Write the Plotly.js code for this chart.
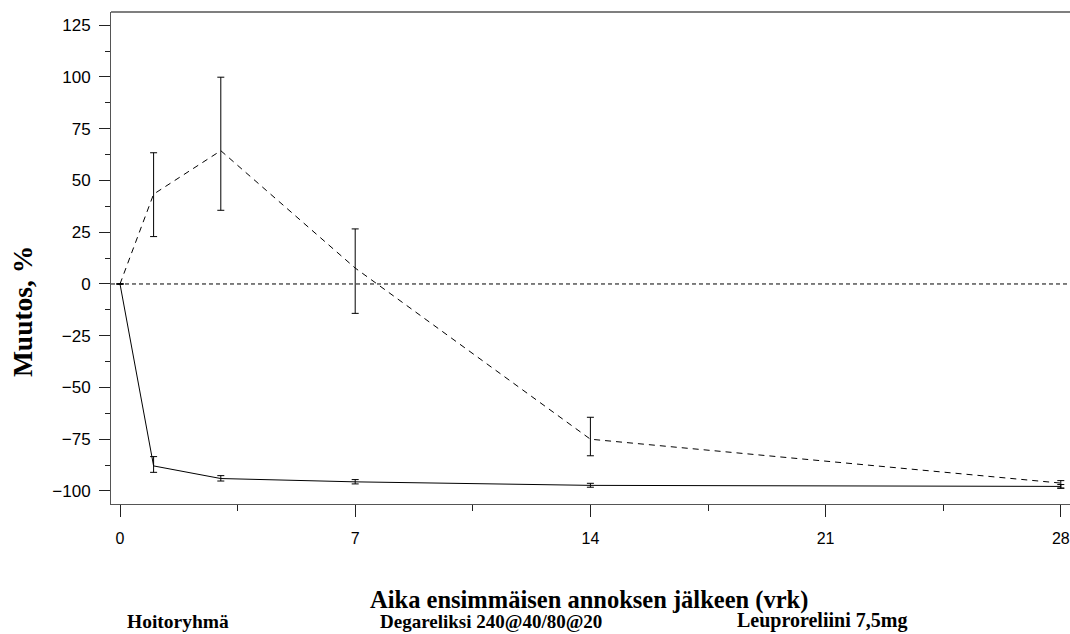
<!DOCTYPE html>
<html>
<head>
<meta charset="utf-8">
<script src="https://cdn.plot.ly/plotly-3.0.1.min.js"></script>
<style>html,body{margin:0;padding:0;background:#fff;}#chart{width:1070px;height:634px;}</style>
</head>
<body>
<div id="chart"></div>
<script>
// Data
const days = [0, 1, 3, 7, 14, 28];
const degarelix = [0, -87.9, -94.0, -95.6, -97.3, -97.8];
const degErrPlus = [0, 4.5, 1.4, 1.1, 1.0, 0.9];
const degErrMinus = [0, 3.1, 1.2, 1.0, 0.9, 0.9];
const leuprorelin = [0, 43.4, 64.4, 7.7, -75.0, -96.2];
const leuErrPlus = [0, 20.0, 35.5, 18.9, 10.6, 1.2];
const leuErrMinus = [0, 20.5, 28.8, 21.9, 8.0, 2.4];
const xTicks = [0, 7, 14, 21, 28];
const yTicks = [-100, -75, -50, -25, 0, 25, 50, 75, 100, 125];
const legendTitle = "Hoitoryhmä";
const seriesNames = ["Degareliksi 240@40/80@20", "Leuproreliini 7,5mg"];
const xTitle = "Aika ensimmäisen annoksen jälkeen (vrk)";
const yTitle = "Muutos, %";

const serif = "Liberation Serif, Times New Roman, serif";
const sans = "Liberation Sans, Arial, sans-serif";
const axisColor = "#555";
const fmt = v => (v < 0 ? "\u2212" + Math.abs(v) : String(v));

const traces = [
  {
    x: days, y: degarelix, name: seriesNames[0], type: "scatter", mode: "lines",
    line: {color: "#000", width: 1},
    error_y: {type: "data", symmetric: false, array: degErrPlus, arrayminus: degErrMinus,
              color: "#000", thickness: 1, width: 3.5},
    cliponaxis: false
  },
  {
    x: days, y: leuprorelin, name: seriesNames[1], type: "scatter", mode: "lines",
    line: {color: "#000", width: 1, dash: "6px,5px"},
    error_y: {type: "data", symmetric: false, array: leuErrPlus, arrayminus: leuErrMinus,
              color: "#000", thickness: 1, width: 3.5},
    cliponaxis: false
  }
];

const layout = {
  width: 1070, height: 634,
  margin: {l: 111, r: 0, t: 12, b: 130},
  paper_bgcolor: "#fff", plot_bgcolor: "#fff",
  showlegend: false,
  xaxis: {
    range: [-0.268, 28.274], tickmode: "array", tickvals: xTicks, ticktext: xTicks.map(fmt),
    showgrid: false, zeroline: false, showline: true, linecolor: axisColor, linewidth: 1,
    ticks: "outside", ticklen: 12, tickcolor: "#222", tickwidth: 1,
    ticklabelstandoff: 8,
    minor: {dtick: 3.5, tick0: 0, ticks: "outside", ticklen: 6, tickcolor: "#222", tickwidth: 1, showgrid: false},
    tickfont: {family: sans, size: 16, color: "#000"}
  },
  yaxis: {
    range: [-106.3, 131.4], tickmode: "array", tickvals: yTicks, ticktext: yTicks.map(fmt),
    showgrid: false, zeroline: false, showline: true, linecolor: axisColor, linewidth: 1,
    ticks: "outside", ticklen: 11, tickcolor: "#222", tickwidth: 1,
    ticklabelstandoff: 5,
    minor: {dtick: 12.5, tick0: 0, ticks: "outside", ticklen: 5, tickcolor: "#222", tickwidth: 1, showgrid: false},
    tickfont: {family: sans, size: 17, color: "#000"}
  },
  shapes: [
    {type: "line", xref: "paper", yref: "paper", x0: 0, x1: 1, y0: 1, y1: 1,
     line: {color: axisColor, width: 1.5}},
    {type: "line", xref: "paper", yref: "y", x0: 0, x1: 1, y0: 0, y1: 0,
     line: {color: "#000", width: 1, dash: "4px,3px"}}
  ],
  annotations: [
    {text: "<b>" + xTitle + "</b>", xref: "paper", yref: "paper", x: 0.4984, y: -0.1951,
     xanchor: "center", yanchor: "middle", showarrow: false,
     font: {family: serif, size: 24.5, color: "#000"}},
    {text: "<b>" + yTitle + "</b>", xref: "paper", yref: "paper", x: -0.0928, y: 0.39,
     xanchor: "center", yanchor: "middle", showarrow: false, textangle: -90,
     font: {family: serif, size: 27.5, color: "#000"}},
    {text: "<b>" + legendTitle + "</b>", xref: "paper", yref: "paper", x: 0.0146, y: -0.2642,
     xanchor: "left", yanchor: "bottom", showarrow: false,
     font: {family: serif, size: 19.5, color: "#000"}},
    {text: "<b>" + seriesNames[0] + "</b>", xref: "paper", yref: "paper", x: 0.2784, y: -0.2642,
     xanchor: "left", yanchor: "bottom", showarrow: false,
     font: {family: serif, size: 19, color: "#000"}},
    {text: "<b>" + seriesNames[1] + "</b>", xref: "paper", yref: "paper", x: 0.6507, y: -0.2642,
     xanchor: "left", yanchor: "bottom", showarrow: false,
     font: {family: serif, size: 20, color: "#000"}}
  ]
};

Plotly.newPlot("chart", traces, layout, {displayModeBar: false, staticPlot: true});
</script>
</body>
</html>
